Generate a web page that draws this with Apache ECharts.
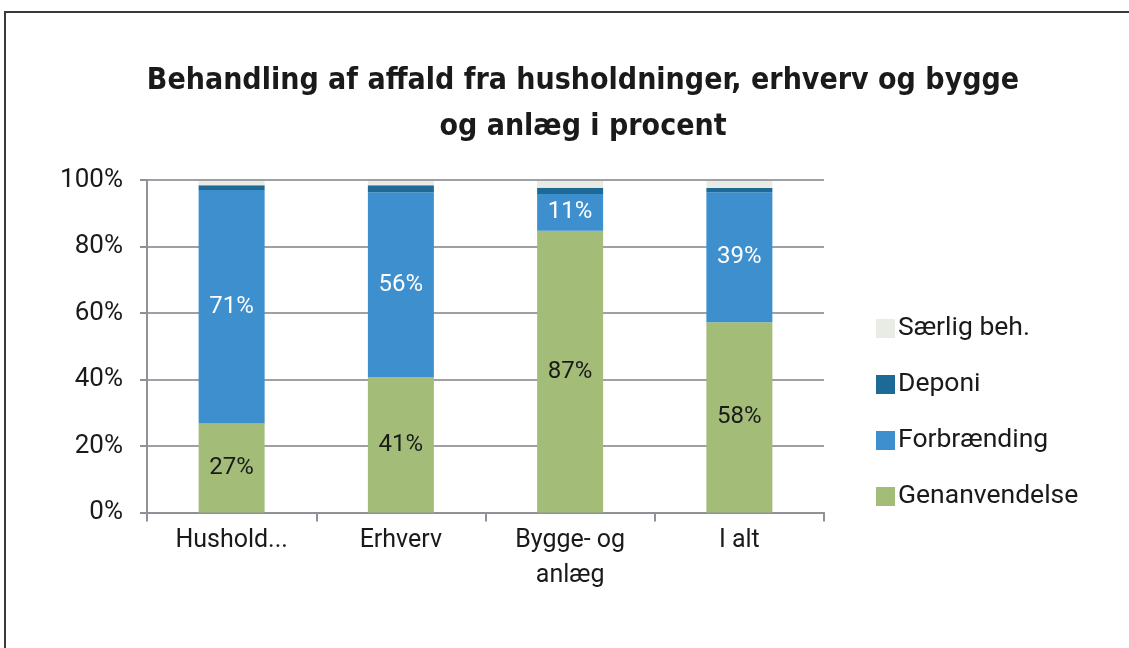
<!DOCTYPE html>
<html>
<head>
<meta charset="utf-8">
<script src="https://cdn.jsdelivr.net/npm/echarts@6/dist/echarts.min.js"></script>
<style>
    html, body {
        margin: 0;
        padding: 0;
        background: #fff;
    }
    #frame {
        position: absolute;
        left: 4px;
        top: 11px;
        width: 1200px;
        height: 700px;
        border-top: 2px solid #3a3a3a;
        border-left: 2px solid #3a3a3a;
    }
    #chart {
        position: absolute;
        left: 0;
        top: 0;
        width: 1129px;
        height: 648px;
    }
</style>
</head>
<body>
<div id="frame"></div>
<div id="chart"></div>
<script>
    // kategorier
    var categories = ['Hushold...', 'Erhverv', 'Bygge- og\nanlæg', 'I alt'];

    // højder (procent)
    var genanvendelse = [26.8, 40.7, 84.7, 57.2];
    var forbraending = [70.2, 55.6, 11.1, 39.1];
    var deponi = [1.4, 2.1, 1.9, 1.3];
    var saerlig = [1.3, 1.3, 2.0, 2.1];

    // værdier vist som etiketter
    var genLabels = ['27%', '41%', '87%', '58%'];
    var forbLabels = ['71%', '56%', '11%', '39%'];

    var yTicks = [0, 20, 40, 60, 80, 100];

    var bodyFont = 'Roboto, "Noto Sans", sans-serif';
    var axisColor = '#8e9296';

    var myChart = echarts.init(document.getElementById('chart'));

    myChart.setOption({
        animation: false,
        title: {
            text: 'Behandling af affald fra husholdninger, erhverv og bygge\nog anlæg i procent',
            left: 578,
            textAlign: 'center',
            top: 53,
            textStyle: {
                fontFamily: '"Liberation Sans Narrow", "DejaVu Sans Condensed", "DejaVu Sans", sans-serif',
                fontWeight: 'bold',
                fontSize: 30,
                lineHeight: 46,
                color: '#1a1a1a'
            }
        },
        legend: {
            orient: 'vertical',
            left: 871,
            top: 310,
            itemWidth: 19,
            itemHeight: 19,
            itemGap: 29,
            icon: 'rect',
            data: ['Særlig beh.', 'Deponi', 'Forbrænding', 'Genanvendelse'],
            textStyle: {
                fontFamily: bodyFont,
                fontSize: 26.5,
                lineHeight: 26,
                color: '#1a1a1a',
                padding: [0, 0, 0, -2]
            }
        },
        grid: {
            left: 147,
            right: 305,
            top: 180,
            bottom: 135.5,
            containLabel: false
        },
        xAxis: {
            type: 'category',
            data: categories,
            axisLine: {
                lineStyle: { color: axisColor, width: 2 }
            },
            axisTick: {
                show: true,
                length: 9,
                lineStyle: { color: axisColor, width: 2 }
            },
            axisLabel: {
                interval: 0,
                margin: 11,
                fontFamily: bodyFont,
                fontSize: 25,
                lineHeight: 35,
                color: '#1a1a1a'
            }
        },
        yAxis: {
            type: 'value',
            min: yTicks[0],
            max: yTicks[yTicks.length - 1],
            interval: 20,
            axisLine: {
                show: true,
                lineStyle: { color: axisColor, width: 2 }
            },
            axisTick: {
                show: true,
                length: 7,
                lineStyle: { color: axisColor, width: 2 }
            },
            splitLine: {
                lineStyle: { color: '#9da1a5', width: 2 }
            },
            axisLabel: {
                margin: 24,
                formatter: '{value}%',
                fontFamily: bodyFont,
                fontSize: 26,
                color: '#1a1a1a'
            }
        },
        series: [
            {
                name: 'Genanvendelse',
                type: 'bar',
                stack: 'total',
                barWidth: 66,
                data: genanvendelse,
                itemStyle: { color: '#a3bd78' },
                label: {
                    show: true,
                    position: 'inside',
                    fontFamily: bodyFont,
                    fontSize: 24,
                    color: '#1a1a1a',
                    formatter: function (p) { return genLabels[p.dataIndex]; }
                }
            },
            {
                name: 'Forbrænding',
                type: 'bar',
                stack: 'total',
                data: forbraending,
                itemStyle: { color: '#3d8fce' },
                label: {
                    show: true,
                    position: 'inside',
                    fontFamily: bodyFont,
                    fontSize: 24,
                    color: '#ffffff',
                    formatter: function (p) { return forbLabels[p.dataIndex]; }
                }
            },
            {
                name: 'Deponi',
                type: 'bar',
                stack: 'total',
                data: deponi,
                itemStyle: { color: '#1d6a96' }
            },
            {
                name: 'Særlig beh.',
                type: 'bar',
                stack: 'total',
                data: saerlig,
                itemStyle: { color: '#e9ece4' }
            }
        ]
    });
</script>
</body>
</html>
